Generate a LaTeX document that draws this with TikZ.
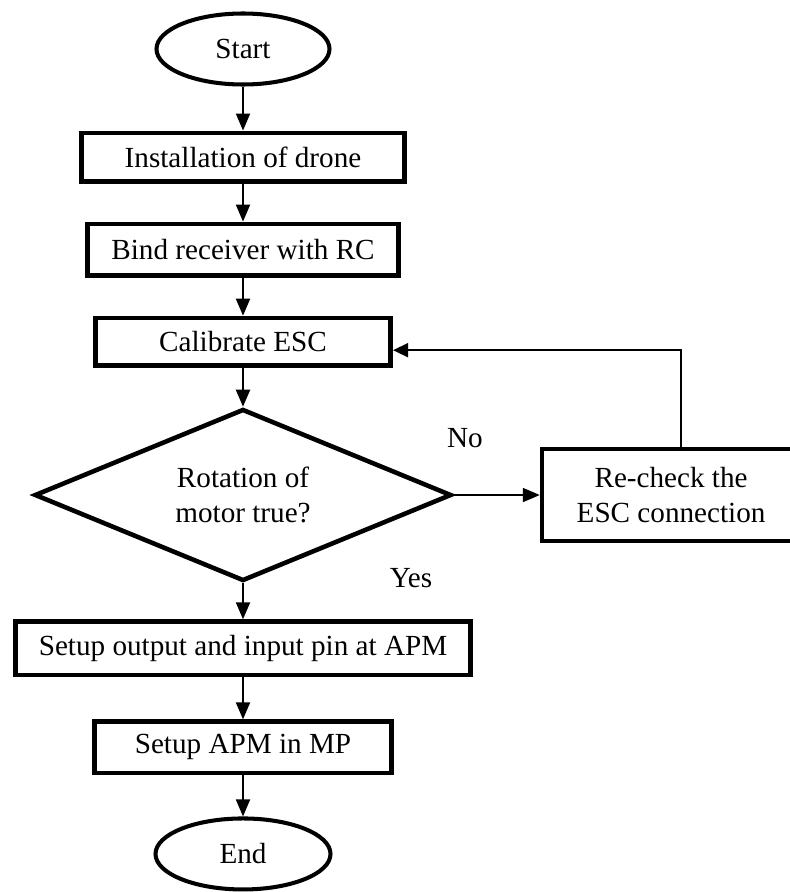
\documentclass[tikz,border=0pt]{standalone}
\usepackage{fontspec}
\setmainfont{Liberation Serif}
\usepackage{tikz}
\usetikzlibrary{shapes.geometric, arrows.meta, positioning}

\begin{document}
\begin{tikzpicture}[
    node distance=0.8cm,
    every node/.style={font=\fontsize{16.6}{19.5}\selectfont},
    termbox/.style={ellipse, draw, line width=2.3pt, minimum width=3.46cm, minimum height=1.42cm, inner sep=0pt},
    procbox/.style={rectangle, draw, line width=2.6pt, minimum height=0.97cm, align=center, inner sep=2pt},
    decbox/.style={diamond, draw, line width=2.6pt, minimum width=8.34cm, minimum height=3.44cm, aspect=2.41, align=center, inner sep=0pt},
    arrow/.style={-{Triangle[length=0.34cm, width=0.28cm]}, line width=1.1pt},
    thinarrow/.style={-{Triangle[length=0.3cm, width=0.28cm]}, line width=0.9pt}
]
\useasboundingbox (0,0) rectangle (15.8,-17.84);

% Start
\node[termbox] (start) at (4.86,-0.98) {Start};

% Steps
\node[procbox, minimum width=6.47cm, below=0.88cm of start] (install) {Installation of drone};
\node[procbox, minimum width=6.21cm, minimum height=1.03cm, below=0.76cm of install] (bind) {Bind receiver with RC};
\node[procbox, minimum width=5.91cm, minimum height=0.95cm, below=0.76cm of bind] (calib) {Calibrate ESC};

% Check
\node[decbox, below=0.78cm of calib] (rotcheck) {Rotation of\\motor true?};
\node[procbox, minimum width=5.16cm, minimum height=1.84cm, right=1.72cm of rotcheck] (recheck) {Re-check the\\ESC connection};

% Setup
\node[procbox, minimum width=9.11cm, minimum height=1.07cm, below=0.72cm of rotcheck] (pins) {Setup output and input pin at APM};
\node[procbox, minimum width=5.95cm, minimum height=1.03cm, below=0.84cm of pins] (apm) {Setup APM in MP};

% End
\node[termbox, minimum width=3.5cm, below=0.82cm of apm] (stop) {End};

% Labels
\node (nolbl) at (9.3,-8.76) {No};
\node (yeslbl) at (8.22,-11.56) {Yes};

% Arrows
\draw[arrow] (start) -- (install);
\draw[arrow] (install) -- (bind);
\draw[arrow] (bind) -- (calib);
\draw[arrow] (calib) -- (rotcheck);
\draw[arrow] (rotcheck) -- (recheck);
\draw[thinarrow] ([xshift=0.2cm]recheck.north) |- ([yshift=-0.17cm]calib.east);
\draw[arrow] (rotcheck) -- (pins);
\draw[arrow] (pins) -- (apm);
\draw[arrow] (apm) -- (stop);

\end{tikzpicture}
\end{document}
